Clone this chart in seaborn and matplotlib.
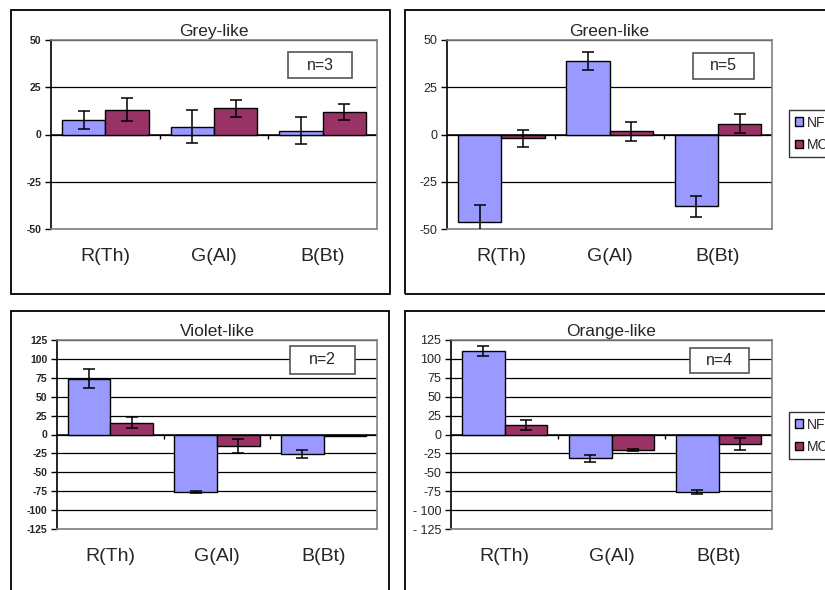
import pandas as pd
import seaborn as sns
import matplotlib.pyplot as plt
from matplotlib.patches import Rectangle, Patch

# datele graficului
categorii = ['R(Th)', 'G(Al)', 'B(Bt)']
serii = ['NF', 'MC']

grey_nf = [7.5, 4.2, 2.1]
grey_nf_err = [4.7, 8.7, 7.0]
grey_mc = [13.2, 13.9, 12.0]
grey_mc_err = [6.0, 4.4, 4.2]

green_nf = [-46.3, 38.8, -37.9]
green_nf_err = [9.2, 4.7, 5.5]
green_mc = [-2.1, 1.7, 5.8]
green_mc_err = [4.3, 5.1, 5.0]

violet_nf = [74.0, -76.0, -26.4]
violet_nf_err = [12.7, 1.5, 5.3]
violet_mc = [15.4, -15.0, -1.5]
violet_mc_err = [7.3, 9.5, 0.0]

orange_nf = [110.6, -31.3, -76.2]
orange_nf_err = [6.4, 4.6, 2.5]
orange_mc = [12.3, -20.3, -12.8]
orange_mc_err = [7.0, 1.0, 7.7]

ticks_50 = [-50, -25, 0, 25, 50]
ticks_125 = [-125, -100, -75, -50, -25, 0, 25, 50, 75, 100, 125]

culori = ['#9999FF', '#993366']

sns.set_style('white')
plt.rcParams['font.family'] = ['Liberation Sans', 'DejaVu Sans']
plt.rcParams['axes.unicode_minus'] = False

W, H = 825, 590
fig = plt.figure(figsize=(W / 100, H / 100), dpi=100)


def axa(l, r, t, b):
    return fig.add_axes([l / W, 1 - b / H, (r - l) / W, (b - t) / H])


def cadru(l, r, t, b):
    fig.patches.append(Rectangle((l / W, 1 - b / H), (r - l) / W, (b - t) / H,
                                 transform=fig.transFigure, fill=False,
                                 edgecolor='black', linewidth=1.3))


def caseta(l, r, t, b, text):
    fig.patches.append(Rectangle((l / W, 1 - b / H), (r - l) / W, (b - t) / H,
                                 transform=fig.transFigure, facecolor='white',
                                 edgecolor='#555555', linewidth=1.2, zorder=5))
    fig.text((l + r) / 2 / W, 1 - (t + b) / 2 / H, text, ha='center', va='center',
             fontsize=11.5, zorder=6)


def panou(ax, titlu, nf, nf_err, mc, mc_err, ticks, etichete, bold):
    df = pd.DataFrame({'Categorie': categorii * 2,
                       'Serie': ['NF'] * 3 + ['MC'] * 3,
                       'Valoare': nf + mc})
    sns.barplot(data=df, x='Categorie', y='Valoare', hue='Serie', hue_order=serii,
                palette=culori, width=0.8, edgecolor='black', linewidth=1,
                errorbar=None, legend=False, ax=ax, saturation=1, zorder=3)
    # barele de eroare
    for bara, v, e in zip(ax.patches, nf + mc, nf_err + mc_err):
        x = bara.get_x() + bara.get_width() / 2
        if e > 0:
            ax.errorbar(x, v, yerr=e, color='black', capsize=4.5, elinewidth=1.1,
                        capthick=1.1, zorder=4)
    ax.set_ylim(ticks[0], ticks[-1])
    ax.set_xlim(-0.5, len(categorii) - 0.5)
    ax.set_yticks(ticks)
    ax.set_yticklabels(etichete, fontsize=7.5 if bold else 9,
                       fontweight='bold' if bold else 'normal')
    ax.yaxis.grid(True, color='black', linewidth=0.9)
    ax.set_axisbelow(True)
    ax.axhline(0, color='black', linewidth=1.1, zorder=2)
    # mici repere intre categorii pe axa zero
    rng = ticks[-1] - ticks[0]
    ax.vlines([i + 0.5 for i in range(len(categorii) - 1)], 0, -0.025 * rng,
              color='black', linewidth=1, zorder=2)
    ax.tick_params(axis='x', length=0, pad=14, labelsize=14)
    ax.tick_params(axis='y', left=True, length=4, width=1, color='black', pad=3)
    for s in ax.spines.values():
        s.set_color('#808080')
        s.set_linewidth(1.2)
    ax.spines['left'].set_color('black')
    ax.set_xlabel('')
    ax.set_ylabel('')
    ax.set_title(titlu, fontsize=12.5, pad=3)


# cadrele celor patru panouri
cadru(11, 390, 10, 294)
cadru(405, 840, 10, 294)
cadru(11, 389, 311, 600)
cadru(405, 840, 311, 600)

et50 = [str(t) for t in ticks_50]
et125 = [str(t) for t in ticks_125]
et125_b = [('- ' + str(-t)) if t <= -100 else str(t) for t in ticks_125]

ax1 = axa(51, 377, 40, 229)
panou(ax1, 'Grey-like', grey_nf, grey_nf_err, grey_mc, grey_mc_err, ticks_50, et50, True)
ax2 = axa(447, 772, 40, 229)
panou(ax2, 'Green-like', green_nf, green_nf_err, green_mc, green_mc_err, ticks_50, et50, False)
ax3 = axa(57, 377, 340, 529)
panou(ax3, 'Violet-like', violet_nf, violet_nf_err, violet_mc, violet_mc_err, ticks_125, et125, True)
ax4 = axa(451, 772, 340, 529)
panou(ax4, 'Orange-like', orange_nf, orange_nf_err, orange_mc, orange_mc_err, ticks_125, et125_b, False)

caseta(288, 352, 52, 78, 'n=3')
caseta(693, 754, 53, 79, 'n=5')
caseta(290, 355, 346, 374, 'n=2')
caseta(690, 749, 348, 373, 'n=4')

# legendele (la marginea din dreapta, ca in original)
handles = [Patch(facecolor=c, edgecolor='black', label=s) for c, s in zip(culori, serii)]
for y in [110, 412]:
    fig.legend(handles=handles, loc='upper left', bbox_to_anchor=(789 / W, 1 - y / H),
               frameon=True, fancybox=False, edgecolor='black', fontsize=10,
               handlelength=0.6, handleheight=0.6, handletextpad=0.3,
               borderpad=0.4, labelspacing=0.6, borderaxespad=0)

fig.savefig('out.png', dpi=100)
